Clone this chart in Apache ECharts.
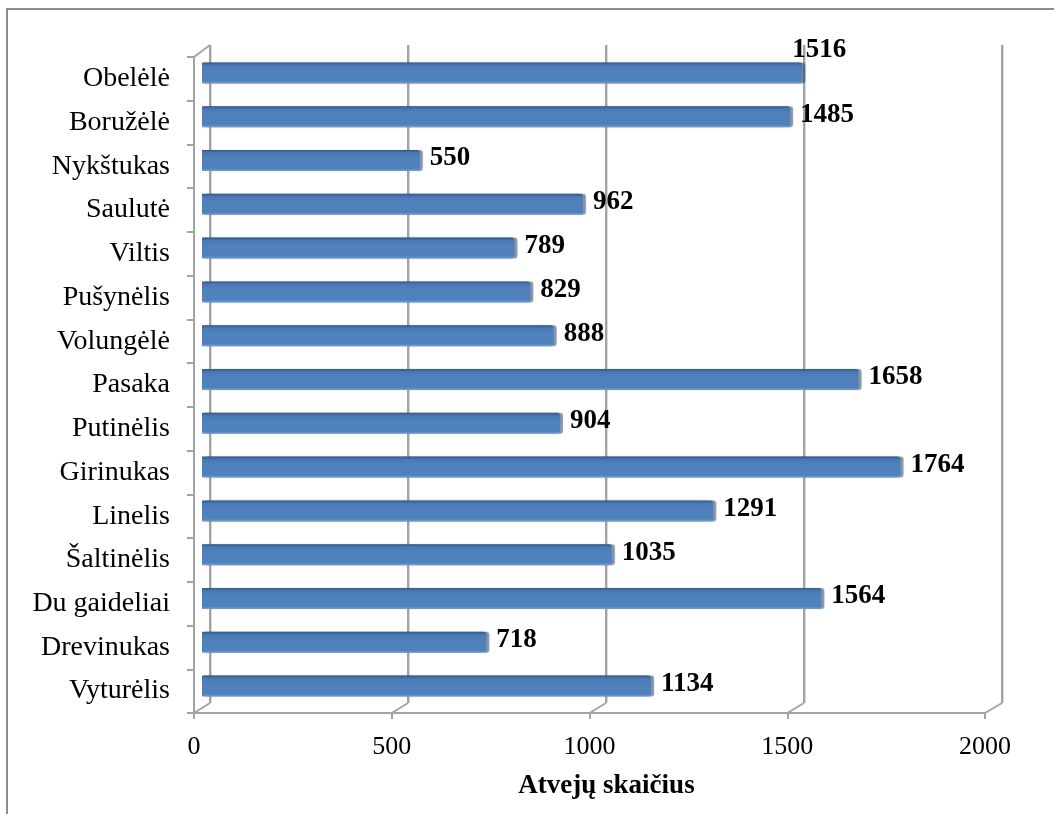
<!DOCTYPE html>
<html>
<head>
<meta charset="utf-8">
<script src="https://cdn.jsdelivr.net/npm/echarts@6/dist/echarts.min.js"></script>
<style>
  html, body { margin: 0; padding: 0; background: #fff; }
  #main { width: 1054px; height: 814px; }
</style>
</head>
<body>
<div id="main"></div>
<script>
// duomenys
var categories = ['Obelėlė', 'Boružėlė', 'Nykštukas', 'Saulutė', 'Viltis', 'Pušynėlis', 'Volungėlė',
    'Pasaka', 'Putinėlis', 'Girinukas', 'Linelis', 'Šaltinėlis', 'Du gaideliai', 'Drevinukas', 'Vyturėlis'];
var values = [1516, 1485, 550, 962, 789, 829, 888, 1658, 904, 1764, 1291, 1035, 1564, 718, 1134];
var xTicks = [0, 500, 1000, 1500, 2000];
var axisTitle = 'Atvejų skaičius';

(function () {
    var FONT = "'Liberation Serif', 'DejaVu Serif', serif";
    var GRAY = '#a3a3a3';
    var myChart = echarts.init(document.getElementById('main'));

    var barData = values.map(function (v, i) {
        var d = { value: v };
        if (i === 0) {
            d.label = { offset: [-20, -23] };
        }
        return d;
    });

    var option = {
        backgroundColor: '#fff',
        animation: false,
        grid: [
            // priekinė plokštuma (ašys)
            { left: 194, right: 69, top: 57, bottom: 101 },
            // galinė siena (tinklelis)
            { left: 210, right: 52, top: 45, bottom: 111 },
            // stulpeliai per vidurį
            { left: 202, right: 60, top: 51, bottom: 106 }
        ],
        xAxis: [
            {
                gridIndex: 0, type: 'value', min: 0, max: 2000, interval: 500,
                axisLine: { show: true, lineStyle: { color: GRAY, width: 2 } },
                axisTick: { show: true, length: 6, lineStyle: { color: GRAY, width: 2 } },
                splitLine: { show: false },
                axisLabel: { fontFamily: FONT, fontSize: 26, color: '#000', margin: 21,
                    formatter: function (v) { return String(v); } },
                name: axisTitle, nameLocation: 'middle', nameGap: 60,
                nameTextStyle: { fontFamily: FONT, fontSize: 27, fontWeight: 'bold', color: '#000', padding: [0, 0, 0, 34] }
            },
            {
                gridIndex: 1, type: 'value', min: 0, max: 2000, interval: 500,
                axisLine: { show: false }, axisTick: { show: false }, axisLabel: { show: false },
                splitLine: { show: true, lineStyle: { color: GRAY, width: 2, shadowColor: 'rgba(0,0,0,0.15)', shadowOffsetX: 1 } }
            },
            {
                gridIndex: 2, type: 'value', min: 0, max: 2000, show: false
            }
        ],
        yAxis: [
            {
                gridIndex: 0, type: 'category', data: categories, inverse: true,
                axisLine: { show: true, lineStyle: { color: GRAY, width: 2 } },
                axisTick: { show: true, length: 7, lineStyle: { color: GRAY, width: 2 } },
                axisLabel: { fontFamily: FONT, fontSize: 28, color: '#000', margin: 24 }
            },
            {
                gridIndex: 1, type: 'category', data: categories, inverse: true,
                axisLine: { show: false }, axisTick: { show: false }, axisLabel: { show: false }
            },
            {
                gridIndex: 2, type: 'category', data: categories, inverse: true, show: false
            }
        ],
        series: [
            {
                type: 'bar',
                xAxisIndex: 2,
                yAxisIndex: 2,
                data: barData,
                barWidth: 21,
                itemStyle: {
                    color: new echarts.graphic.LinearGradient(0, 0, 0, 1, [
                        { offset: 0, color: '#34598a' },
                        { offset: 0.15, color: '#4a7ab6' },
                        { offset: 0.4, color: '#4f81bd' },
                        { offset: 0.88, color: '#4f81bd' },
                        { offset: 1, color: '#7a9fd0' }
                    ]),
                    borderRadius: [0, 3, 3, 0],
                    shadowColor: 'rgba(20,40,80,0.5)',
                    shadowOffsetX: 3,
                    shadowOffsetY: 0,
                    shadowBlur: 1
                },
                label: {
                    show: true,
                    position: 'right',
                    distance: 10,
                    offset: [0, -2],
                    fontFamily: FONT,
                    fontSize: 27,
                    fontWeight: 'bold',
                    color: '#000'
                }
            }
        ]
    };
    myChart.setOption(option);

    // 3D rėmelio įstrižainės ir išorinis rėmas
    var frontBottom = 814 - 101, backBottom = 814 - 111;
    var frontTop = 57, backTop = 45;
    var frontLeft = 194, backLeft = 210;
    var lineStyle = { stroke: GRAY, lineWidth: 2 };
    var elements = [
        { type: 'rect', shape: { x: 7, y: 9, width: 1200, height: 900 }, style: { fill: null, stroke: '#8c8c8c', lineWidth: 2 }, z: 0 },
        { type: 'line', shape: { x1: frontLeft, y1: frontTop, x2: backLeft, y2: backTop }, style: lineStyle },
        { type: 'line', shape: { x1: backLeft, y1: backTop, x2: backLeft, y2: backBottom }, style: lineStyle }
    ];
    xTicks.forEach(function (t) {
        var fx = myChart.convertToPixel({ xAxisIndex: 0 }, t);
        var bx = myChart.convertToPixel({ xAxisIndex: 1 }, t);
        elements.push({ type: 'line', shape: { x1: fx, y1: frontBottom, x2: bx, y2: backBottom }, style: lineStyle });
    });
    myChart.setOption({ graphic: { elements: elements } });
})();
</script>
</body>
</html>
